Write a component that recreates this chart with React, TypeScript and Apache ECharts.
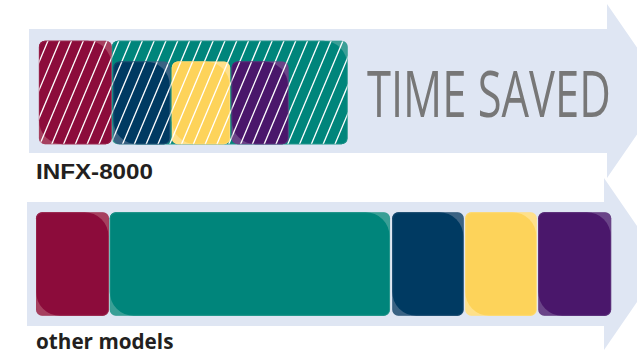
import React, { useEffect, useRef } from "react";
import * as echarts from "echarts";

// Rows (categories)
const rows = ["INFX-8000", "other models"];
// Stage colours (five process stages)
const stageColors = ["#8c0c3b", "#00857b", "#003a62", "#fdd35a", "#4a176b"];
const stageLight = ["#a6405f", "#3a9f96", "#3a6283", "#fee08a", "#6a4488"];
// INFX-8000 stage start / end (time units) and relative bar height
const infxStart = [0.4, 10.4, 10.6, 18.6, 26.8];
const infxEnd = [10.4, 42.7, 18.4, 26.6, 34.6];
const infxHeight = [1, 1, 0.8, 0.8, 0.8];
// other models stage start / end
const otherStart = [0, 10.1, 48.8, 58.8, 68.8];
const otherEnd = [10, 48.5, 58.6, 68.6, 78.8];
const otherHeight = [1, 1, 1, 1, 1];
const headline = "TIME SAVED";

export default function App() {
  const ref = useRef<HTMLDivElement>(null);
  useEffect(() => {
    if (!ref.current) return;
    document.body.style.margin = "0";
    const chart = echarts.init(ref.current, null, { renderer: "svg" });
    const data: any[] = [];
    infxStart.forEach((s, i) => data.push([s, infxEnd[i], 0, infxHeight[i], i, 1]));
    otherStart.forEach((s, i) => data.push([s, otherEnd[i], 1, otherHeight[i], i, 0]));

    const renderItem = (params: any, api: any) => {
      const s = api.value(0);
      const e = api.value(1);
      const row = api.value(2);
      const hf = api.value(3);
      const st = api.value(4);
      const hatch = api.value(5);
      const p0 = api.coord([s, row]);
      const p1 = api.coord([e, row]);
      const origin = api.coord([0, row])[0];
      const band = api.size([0, 1])[1];
      const H = band * 0.6035;
      const yB = p0[1] + H / 2;
      const yFull = yB - H;
      const h = H * hf;
      const yT = yB - h;
      const x0 = p0[0];
      const w = p1[0] - p0[0];
      const r = 6;
      const children: any[] = [
        { type: "rect", shape: { x: x0, y: yT, width: w, height: h, r }, style: { fill: stageLight[st] } },
        {
          type: "rect",
          shape: { x: x0, y: yT, width: w - 0.5, height: h, r: [r, 24, r, 24] },
          style: { fill: stageColors[st] },
        },
      ];
      if (hatch) {
        const slope = 0.42;
        const sp = 11.8;
        const base = origin + 12;
        const lines: any[] = [];
        for (let k = -10; k < 60; k++) {
          const xt = base + k * sp;
          const xa = xt - (yT - yFull) * slope;
          const xb = xt - (yB - yFull) * slope;
          if (xb > x0 + w || xa < x0) continue;
          lines.push({
            type: "line",
            shape: { x1: xb, y1: yB, x2: xa, y2: yT },
            style: { stroke: "#ffffff", lineWidth: 1.3 },
          });
        }
        children.push({
          type: "group",
          clipPath: { type: "rect", shape: { x: x0, y: yT, width: w, height: h, r } },
          children: lines,
        });
      }
      children.push({
        type: "rect",
        shape: { x: x0 + 0.5, y: yT + 0.5, width: w - 1, height: h - 1, r },
        style: { fill: "none", stroke: stageLight[st], lineWidth: 0.8, opacity: 0.5 },
      });
      return { type: "group", children };
    };

    chart.setOption({
      animation: false,
      grid: { left: 36, right: 17, top: 6.75, bottom: 3.25 },
      xAxis: { type: "value", min: 0, max: 80, show: false },
      yAxis: { type: "category", data: rows, inverse: true, show: false },
      graphic: [
        {
          type: "polygon",
          z: 0,
          shape: { points: [[29, 29], [607, 29], [607, 4], [667, 91], [607, 178], [607, 153], [29, 153]] },
          style: { fill: "#dfe6f3" },
        },
        {
          type: "polygon",
          z: 0,
          shape: { points: [[27, 202], [604, 202], [604, 178], [663, 264], [604, 350], [604, 326], [27, 326]] },
          style: { fill: "#dfe6f3" },
        },
        {
          type: "text",
          z: 1,
          x: 367,
          y: 92,
          scaleX: 0.68,
          style: {
            text: headline,
            fontFamily: "Open Sans",
            fontSize: 64,
            fill: "#777777",
            textAlign: "left",
            textVerticalAlign: "middle",
          },
        },
        {
          type: "text",
          z: 1,
          x: 36,
          y: 171,
          scaleX: 1.1,
          style: {
            text: rows[0],
            fontFamily: "Liberation Sans",
            fontWeight: "bold",
            fontSize: 22,
            fill: "#231f20",
            textAlign: "left",
            textVerticalAlign: "middle",
          },
        },
        {
          type: "text",
          z: 1,
          x: 36,
          y: 340.5,
          style: {
            text: rows[1],
            fontFamily: "Open Sans",
            fontWeight: "bold",
            fontSize: 20.7,
            fill: "#231f20",
            textAlign: "left",
            textVerticalAlign: "middle",
          },
        },
      ],
      series: [
        {
          type: "custom",
          renderItem,
          data,
          encode: { x: [0, 1], y: 2 },
          z: 2,
        },
      ],
    });
    return () => chart.dispose();
  }, []);
  return <div ref={ref} style={{ width: 637, height: 353 }} />;
}
